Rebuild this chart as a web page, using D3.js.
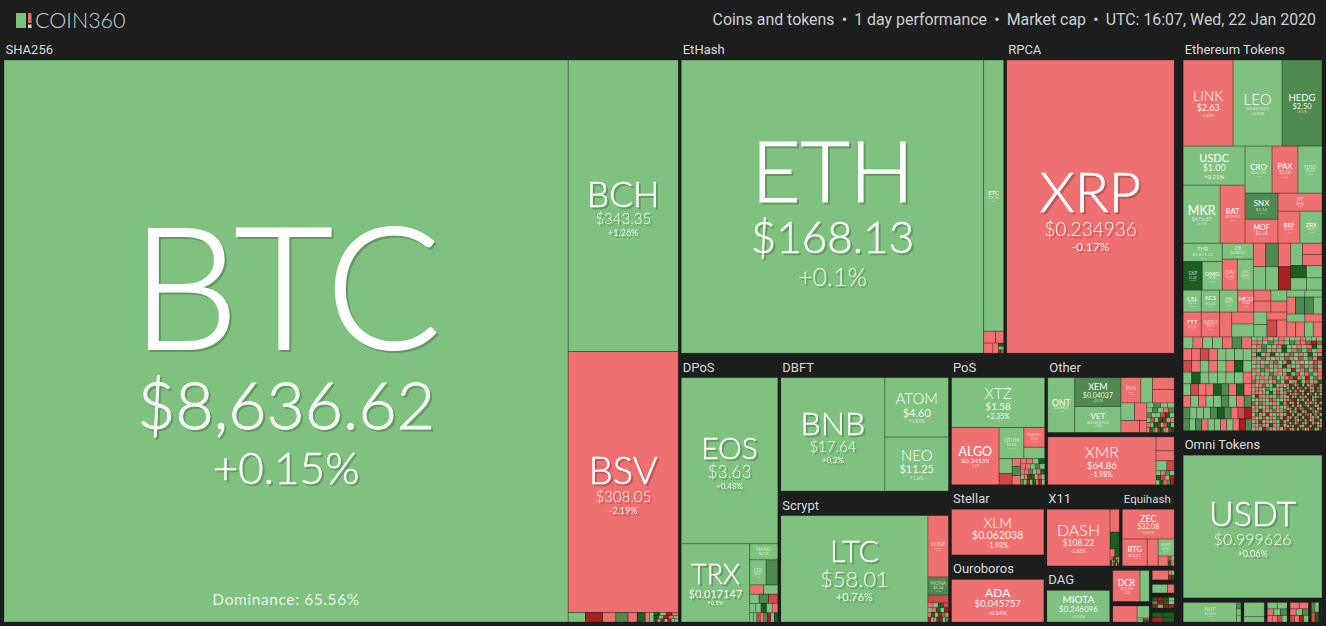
<!DOCTYPE html>
<html>
<head>
<meta charset="utf-8">
<title>COIN360</title>
<script src="https://cdn.jsdelivr.net/npm/d3@7"></script>
<style>
  html, body { margin: 0; padding: 0; background: #1c1e1e; overflow: hidden; }
  svg { display: block; }
</style>
</head>
<body>
<script>
//header text
var logoText = "COIN360";
var headerText = "Coins and tokens \u2009\u2022\u2009 1 day performance \u2009\u2022\u2009 Market cap \u2009\u2022\u2009 UTC: 16:07, Wed, 22 Jan 2020";
var dominanceText = "Dominance: 65.56%";

//coins with a label: symbol, price, 1 day change %, market cap in $M
var sha256Coins = [["BTC","$8,636.62",0.15,165420],["BCH","$343.35",1.26,16735],["BSV","$308.05",-2.19,14984]];
var ethHashCoins = [["ETH","$168.13",0.1,48262],["ETC","$9.36",1.2,2951]];
var rpcaCoins = [["XRP","$0.234936",-0.17,26951]];
var dposCoins = [["EOS","$3.63",0.48,9065],["TRX","$0.017147",0.5,3025],["NANO","$0.926",1.1,254],["LSK","$0.81",1.3,230]];
var dbftCoins = [["BNB","$17.64",0.2,7274],["ATOM","$4.60",0.85,2329],["NEO","$11.25",1.6,2113]];
var scryptCoins = [["LTC","$58.01",0.76,9760],["DOGE","$0.0023",-0.4,786],["MONA","$1.34",9.2,230]];
var posCoins = [["XTZ","$1.58",2.35,2935],["ALGO","$0.24535",-4.1,1720],["QTUM","$1.89",1.5,488],["WAVES","$1.05",-1.2,259]];
var otherCoins = [["ONT","$0.648655",0.6,1094],["XEM","$0.04037",10.2,983],["VET","$0.005903",1.8,881],["RVN","$0.022",-2.4,373]];
var xmrCoins = [["XMR","$64.86",-1.98,2890]];
var stellarCoins = [["XLM","$0.062038",-1.98,3328]];
var ouroborosCoins = [["ADA","$0.045757",-0.14,3186]];
var x11Coins = [["DASH","$108.22",-0.88,2659]];
var equihashCoins = [["ZEC","$32.08",-0.87,1167],["BTG","$10.81",-1.4,505],["KMD","$0.61",0.9,205]];
var dagCoins = [["MIOTA","$0.246096",0.33,1840]];
var miscCoins = [["DCR","$18.98",-1.1,523],["NUT","$0.0192",1.1,704]];
var omniCoins = [["USDT","$0.999626",0.06,12305]];
var tokenCoins = [
  ["LINK","$2.63",-1.42,2430],["LEO","$0.893965",0.65,2381],["HEDG","$2.50",8.57,1944],
  ["USDC","$1.00",0.21,1366],["MKR","$476.87",0.75,1212],["BAT","$0.209512",-0.8,819],
  ["CRO","$0.037765",1.2,717],["PAX","$1.00",-0.5,690],["TUSD","$1.00",0.2,637],
  ["SNX","$1.14",8.1,485],["MOF","$1.68",-1.1,447],["HT","$3.24",-0.6,447],["REP","$11.81",-0.9,398],["ZRX","$0.21",0.4,398],
  ["THR","$1,471.23",0.3,408],["ZB","$0.288745",0.5,280],["SXP","$1.08",24.6,306],["OMG","$0.88",0.7,322],
  ["DAI","$1.00",-0.3,263],["LRC","$0.02",0.4,280],
  ["CEL","$0.14",0.6,224],["KCS","$1.01",0.9,230],["INB","$0.33",1.2,224],["MCO","$3.64",-2.1,199],
  ["FTT","$2.20",-1.3,254],["NEXO","$0.11",-0.7,261]
];

//unlabelled cells: [1 day change %, market cap in $M]
var sha256TailCells = [[2,85],[-24,85],[-2,65],[9,60],[-3,45],[26,40],[-2,22],[3,20]];
var sha256TailChanges = [26,3,-22,-3,25,2,-21,-2,3,25,-3,-24,4,-22,2,3];
var ethTailCells = [[-2,78],[-3,52],[-2,50],[-3,30]];
var ethTailChanges = [25,2,-22,9];
var lskMate = [9,166];
var dposTailChanges = [-2,2, 2,9,-14, 2,2,25,2,-2, 2,2,-14,-2,9,-22,2,25];
var scryptStripe = [-12,102];
var scryptTailChanges = [-3,2,25,-14, 2,-3,26,3,-22, -3,25,2,-22,9,-2, -24,3,-3,26,-21,3,9];
var posSideCells = [[2,150],[2,123],[-3,50]];
var posFootCells = [[-14,92],[9,50],[-2,42]];
var posTailChanges = [-2,-3,2,25, -3,-2,2,9,3, -3,-3,9,2,-2,25, 2,-3,25,-22,3,-14,2, 9,2,-22,3,26,-3,-24,2];
var otherTopCells = [[2,217],[-2,187],[-2,217]];
var otherMidCells = [[2,176],[-2,160],[-2,163],[-3,64]];
var otherTailChanges = [2,9,2,3, 3,9,2,-3,9, 9,2,3,-14,25,2, 2,-14,3,25,-22,2,-3, -3,2,26,-22,3,-14,25,2, 2,-22,9,3,-24,26,-3,2,-21,25];
var xmrTailCells = [[-2,141],[-3,100],[2,60],[-14,40]];
var xmrTailChanges = [2,-3,9,2, 25,-14,3,-22, 2,26,-3,9,-21];
var x11TailCells = [[-2,156],[26,115],[-2,28],[24,26]];
var x11TailChanges = [3,-14,25,-3,2, -22,2,9,-24,3, 25,-3,-21,2,26];
var equihashCells = [[-3,222],[-2,74]];
var equihashTailChanges = [-14,2,25,-3];
var dcrMate = [2,175];
var miscCells = [[-2,269],[3,100]];
var miscTailChanges = [2,-14,3,25];
var blockOneCells = [[-2,130]];
var blockOneChanges = [-2,3,-22,25];
var blockTwoCells = [[2,112],[-3,50]];
var blockThreeChanges = [25,-22,26,3, -14,25,-24,2, 25,-3,26,-21];
var blockFourChanges = [26,25,-24,26];
var omniSideCells = [[9,18],[2,18],[2,19]];
var omniBlockA = [[2,214],[3,78]];
var omniBlockB = [2,3, -3,2,9, -2,-3,-14,2];
var omniBlockC = [-2,-3, -3,2,9, -14,-2,-22,3];
var omniBlockD = [9,2,-14,25];
var omniBlockE = [-3];

//unlabelled token cells, by block
var tokenMidA = [[[-3,166],[2,166]],[[9,166],[3,166]],[[-2,166],[-24,166]]];
var tokenMidB = [[[2,146]],[[-2,124],[-3,124]],[[26,108],[2,108]],[[3,108],[2,108]]];
var tokenLowLeft = [[-2,169]];
var tokenLowStack = [[-3,149],[2,162]];
var tokenLowMid = [[[-2,106],[2,99]],[[-3,106],[-2,99]]];
var tokenLowMidFoot = [[2,92],[3,92],[-3,90],[-13,96],[-2,96]];
var tokenLowRight = [[[2,71],[3,67]],[[-2,82],[9,86],[10,86],[2,82]],[[2,81],[-3,77]],[[-2,74],[-3,74],[2,74],[-2,74]]];

//small tokens, change % only, read row by row
var tokenTailLeftCounts = [7,8,8,8,9,9,10,11];
var tokenTailLeft = [
  3,-2,2,3,-3,9,-2,
  -3,-2,-14,-2,2,3,2,3,
  -14,-2,3,-2,2,-3,26,3,
  2,26,3,2,3,2,3,-3,
  3,-14,-2,-3,26,9,-2,25,-3,
  -2,3,-3,3,2,9,2,-3,9,
  9,3,2,3,9,25,9,-2,-14,-24,
  9,3,9,-3,2,3,-2,3,-3,-24,9
];
var tokenTailACounts = [13,13,14,14,15,15,16,16,16,16,17,17];
var tokenTailA = [
  3,2,-2,4,3,-4,3,5,2,-3,4,2,3,
  -3,-4,3,9,-2,-3,2,8,-2,-3,-14,-22,-13,
  2,-2,9,3,3,-2,25,3,2,-4,3,-3,25,2,
  -3,3,9,2,-2,2,24,3,-3,9,2,-14,3,-2,
  2,26,3,-3,25,2,3,-2,9,3,-3,2,26,3,-2,
  -3,2,-14,3,2,-2,3,9,-3,2,-14,3,9,-2,25,
  2,-3,2,3,-2,9,3,-2,25,3,-3,2,0,3,-14,-2,
  3,2,-3,9,2,-3,2,26,-2,3,3,-13,2,-3,9,2,
  -2,3,9,-3,2,3,-2,2,3,-22,2,-3,9,3,-14,-2,
  2,-3,3,2,9,-2,3,-3,26,2,-13,3,-2,9,2,-3,
  -3,2,-2,3,-3,9,2,3,-2,-14,25,-3,2,-22,3,9,-2,
  9,-2,3,-3,2,-2,9,3,-24,2,-3,26,3,-14,2,-3,25
];
var tokenTailBCounts = [10,10,10,10,10,10,10,10,10,10,10,10,10];
var tokenTailB = [
  -3,2,-2,-14,3,2,25,3,-3,2,
  2,-2,-3,3,9,2,3,-3,2,9,
  -2,-3,3,-2,3,26,2,-14,3,-3,
  3,-22,-2,2,-3,2,3,9,-3,2,
  2,3,-3,3,2,-14,-2,3,2,-3,
  -14,2,9,-2,3,2,-3,2,25,-2,
  3,-3,2,3,-2,9,3,-3,2,3,
  -2,3,25,-3,2,-3,-14,3,-2,9,
  2,9,-2,3,-22,3,2,-3,3,-2,
  -3,2,3,-14,2,-2,3,9,-3,25,
  3,-2,-24,3,-3,2,-2,3,26,-3,
  -2,3,9,-3,3,25,-3,2,-24,3,
  3,-3,2,-22,9,-2,3,-3,2,-14
];
var tokenTailCCounts = [14,14,14,14,14,14,14,14,14,14,14,14,14,14,14,14];
var tokenTailC = [
  -3,25,-22,3,-14,26,2,-24,3,-3,9,-21,25,2,
  2,-22,3,26,-3,-14,25,3,-24,2,-3,26,-13,3,
  -14,3,25,-2,-24,3,2,-21,26,-3,3,-22,9,-3,
  25,-3,-14,3,9,-22,-3,25,2,-14,26,3,-24,2,
  3,-24,2,-3,26,3,-13,2,-22,25,-3,3,-14,9,
  -3,9,-21,25,2,-14,3,26,-3,-24,3,9,25,-22,
  26,2,-3,-22,3,25,-24,3,-14,2,9,-3,-21,3,
  -14,25,3,-24,-3,3,26,-13,2,25,-22,3,-3,26,
  3,-3,26,2,-21,-3,9,25,-24,3,-14,26,2,-3,
  -22,2,-14,3,25,-24,3,-3,26,-21,9,3,-14,25,
  25,-24,3,26,-3,2,-22,9,-14,3,25,-3,-24,3,
  -3,3,-21,2,-14,25,3,-24,26,-3,2,-13,3,25,
  2,26,-24,-3,3,-14,25,2,-22,3,-3,26,-21,3,
  -22,3,25,3,-14,26,-3,2,-24,25,3,-14,2,-3,
  3,-14,-3,25,-22,3,2,-24,26,3,-21,25,-3,2,
  25,-3,2,-24,3,26,-14,3,-3,-22,25,2,-3,26
];

//look of the page, kept apart from the data
var symbolFont = "Lato, 'Noto Sans', sans-serif";
var uiFont = "Roboto, sans-serif";
var bgColor = "#1c1e1e";
var zeroColor = "#b5b5b5";
//label type sizes: symbol, price, change
var labelSizes = {
  BTC:[170,66,44],BCH:[35,15,9],BSV:[38,15,9],ETH:[85,44,25],ETC:[6,4,2],XRP:[56,19,12],
  EOS:[30,17,8],TRX:[27,11,6],NANO:[5,3,2],LSK:[5,3,2],BNB:[32,15,8],ATOM:[15,11,5],NEO:[15,11,5],
  LTC:[30,22,11],DOGE:[5,2,2],MONA:[5,4,2],XTZ:[15,10,7],ALGO:[12.5,6.5,3],QTUM:[5,4,2],WAVES:[4,3,2],
  ONT:[8.5,3,2],XEM:[9,7,3],VET:[8,4.5,3],RVN:[5,2,2],XMR:[16,9.5,7],XLM:[14,10.5,7],ADA:[12,9.5,6],
  DASH:[16,8.5,5],ZEC:[9,7,4],BTG:[7.5,4,2],KMD:[4,3,2],MIOTA:[10,8,4],DCR:[8.5,4,3],USDT:[34,16,9],NUT:[5,3,2],
  LINK:[14,9,4],LEO:[15,4.5,4],HEDG:[9.5,7.5,3],USDC:[11,9,6],CRO:[8,3,2.5],PAX:[8,5,2.5],TUSD:[5,3.5,2],MKR:[12.5,5.5,3],
  BAT:[7.5,3,2],SNX:[8,4.5,2.5],MOF:[7,5,2.5],HT:[5,3,2],REP:[6,3,2],ZRX:[6,3,2],THR:[5.5,4.5,2.5],ZB:[5.5,3,2.5],
  SXP:[5,3,2],OMG:[6,3,2],DAI:[5.5,3.5,2],LRC:[4,3,2],CEL:[6,3,2],KCS:[6,4,2],INB:[4,3,2],MCO:[6,3,2],
  FTT:[6,3,2],NEXO:[5,3,2]
};

//colors by 1 day change
var color = d3.scaleThreshold()
  .domain([-20, -7, 0, 7, 20])
  .range(["#a92020", "#cc4a4a", "#ef7070", "#7fc27f", "#4f8b50", "#1c5e21"]);

//labelled coins by symbol
var coinBySymbol = new Map(
  [].concat(sha256Coins, ethHashCoins, rpcaCoins, dposCoins, dbftCoins, scryptCoins, posCoins, otherCoins,
    xmrCoins, stellarCoins, ouroborosCoins, x11Coins, equihashCoins, dagCoins, miscCoins, omniCoins, tokenCoins)
  .map(function(d){ return [d[0], d]; })
);

//tree builders
function c(sym){
  var d = coinBySymbol.get(sym);
  return {symbol:d[0], price:d[1], change:d[2], cap:d[3]};
}
function cell(d){ return {change:d[0], cap:d[1]}; }
function h(){ return {tile:d3.treemapDice, children:Array.from(arguments)}; }
function v(){ return {tile:d3.treemapSlice, children:Array.from(arguments)}; }
function group(title, child){ return {tile:d3.treemapDice, title:title, isGroup:true, children:[child]}; }
function cells(list){ return list.map(cell); }
function rowsOf(list){ return v.apply(null, list.map(function(r){ return h.apply(null, cells(r)); })); }
//rows of equal height cut from a list of changes, each row sharing its cap evenly
function grid(changes, counts, cap){
  var at = 0, rows = counts.map(function(n){
    var row = changes.slice(at, at + n).map(function(ch){ return {change:ch, cap:cap / counts.length / n}; });
    at += n;
    return h.apply(null, row);
  });
  return v.apply(null, rows);
}

//the chart tree, one block at a time
var sha256Tree = group("SHA256", h(c("BTC"), v(c("BCH"), c("BSV"),
  h.apply(null, cells(sha256TailCells).concat([grid(sha256TailChanges, [4,5,7], 120)])))));
var ethHashTree = group("EtHash", h(c("ETH"), v(c("ETC"),
  h(cell(ethTailCells[0]), cell(ethTailCells[1])),
  h(cell(ethTailCells[2]), cell(ethTailCells[3]), grid(ethTailChanges, [1,1,2], 29)))));
var rpcaTree = group("RPCA", c("XRP"));
var dposTree = group("DPoS", v(c("EOS"), h(c("TRX"), v(c("NANO"),
  h(c("LSK"), cell(lskMate)), grid(dposTailChanges, [2,3,5,8], 586)))));
var dbftTree = group("DBFT", h(c("BNB"), v(c("ATOM"), c("NEO"))));
var scryptTree = group("Scrypt", h(c("LTC"), v(c("DOGE"), c("MONA"), cell(scryptStripe),
  grid(scryptTailChanges, [4,5,6,7], 243))));
var posTree = group("PoS", v(c("XTZ"), h(c("ALGO"), v(
  h(c("QTUM"), v(c("WAVES"), cell(posSideCells[0]))),
  h(v(cell(posSideCells[1]), cell(posFootCells[0])),
    v(cell(posFootCells[2]), cell(posFootCells[1]), cell(posSideCells[2])),
    grid(posTailChanges, [4,5,6,7,8], 393))))));
var otherTree = group("Other", h(c("ONT"), v(c("XEM"), c("VET")), v(
  h(c("RVN"), cell(otherTopCells[0]), v(cell(otherTopCells[1]), cell(otherTopCells[2]))),
  h(v(h(cell(otherMidCells[0]), cell(otherMidCells[1])), h(cell(otherMidCells[2]), cell(otherMidCells[3]))),
    grid(otherTailChanges, [4,5,6,7,8,10], 591)))));
var xmrTree = group(null, h(c("XMR"), v(cell(xmrTailCells[0]), cell(xmrTailCells[1]),
  h(cell(xmrTailCells[2]), cell(xmrTailCells[3])), grid(xmrTailChanges, [4,4,5], 141))));
var stellarTree = group("Stellar", c("XLM"));
var ouroborosTree = group("Ouroboros", c("ADA"));
var x11Tree = group("X11", h(c("DASH"), v(cell(x11TailCells[0]), cell(x11TailCells[1]),
  h(cell(x11TailCells[2]), cell(x11TailCells[3])), grid(x11TailChanges, [5,5,5], 61))));
var equihashTree = group("Equihash", v(c("ZEC"), h(c("BTG"), cell(equihashCells[0]),
  v(c("KMD"), h(cell(equihashCells[1]), grid(equihashTailChanges, [2,2], 45))))));
var dagTree = group("DAG", c("MIOTA"));
var dcrTree = group(null, h(c("DCR"), cell(dcrMate)));
var miscTree = group(null, h(cell(miscCells[0]), v(cell(miscCells[1]), grid(miscTailChanges, [2,2], 34))));
var blockOne = group(null, h(cell(blockOneCells[0]), grid(blockOneChanges, [2,2], 44)));
var blockTwo = group(null, h(cell(blockTwoCells[0]), cell(blockTwoCells[1])));
var blockThree = group(null, grid(blockThreeChanges, [4,4,4], 187));
var blockFour = group(null, grid(blockFourChanges, [2,2], 174));

var tokensTree = group("Ethereum Tokens", v(
  h(c("LINK"), c("LEO"), c("HEDG")),
  h(v(c("USDC"), h(c("MKR"), c("BAT"))),
    v(h(c("CRO"), c("PAX"), c("TUSD")),
      h(v(c("SNX"), c("MOF")), v(c("HT"), h(c("REP"), c("ZRX")))))),
  h(v(c("THR"), h(c("SXP"), c("OMG"))),
    v(c("ZB"), h(c("DAI"), c("LRC"))),
    h.apply(null, tokenMidA.map(function(col){ return v.apply(null, cells(col)); })),
    v(h(cell(tokenMidB[0][0]), v(cell(tokenMidB[1][0]), cell(tokenMidB[1][1]))),
      h.apply(null, cells(tokenMidB[2])), h.apply(null, cells(tokenMidB[3])))),
  h(v(h(c("CEL"), c("KCS"), c("INB"), c("MCO")),
      h(c("FTT"), c("NEXO"), cell(tokenLowLeft[0]), v(cell(tokenLowStack[0]), cell(tokenLowStack[1])))),
    v(rowsOf(tokenLowMid), h(v(cell(tokenLowMidFoot[0]), cell(tokenLowMidFoot[1])),
      v(cell(tokenLowMidFoot[2]), h(cell(tokenLowMidFoot[3]), cell(tokenLowMidFoot[4]))))),
    rowsOf(tokenLowRight)),
  h(grid(tokenTailLeft, tokenTailLeftCounts, 3626),
    v(grid(tokenTailA, tokenTailACounts, 1859),
      h(grid(tokenTailB, tokenTailBCounts, 930),
        grid(tokenTailC, tokenTailCCounts, 930))))
));
var omniTree = group("Omni Tokens", c("USDT"));
var omniFoot = h(
  group(null, h(c("NUT"), v.apply(null, cells(omniSideCells)))),
  group(null, v.apply(null, cells(omniBlockA))),
  group(null, grid(omniBlockB, [2,3,4], 285)),
  group(null, grid(omniBlockC, [2,3,4], 266)),
  group(null, grid(omniBlockD, [2,2], 130)),
  group(null, grid(omniBlockE, [1], 40))
);

var leftCol = sha256Tree;
var midCol = v(
  h(ethHashTree, rpcaTree),
  h(dposTree,
    v(dbftTree, scryptTree),
    v(h(posTree, v(otherTree, xmrTree)),
      h(v(stellarTree, ouroborosTree),
        v(h(x11Tree, equihashTree),
          h(dagTree, v(dcrTree, miscTree), v(blockOne, blockTwo, blockThree, blockFour))))))
);
var rightCol = v(tokensTree, omniTree, omniFoot);
rightCol.padLeft = 6;
var chartTree = h(leftCol, midCol, rightCol);

//SVG dimension variables
var w = 1326, h_ = 626;

var container = d3.select("body")
  .append("svg")
  .attr("width", w)
  .attr("height", h_)
  .attr("class", "container")
  .style("background-color", bgColor);

var root = d3.hierarchy(chartTree).sum(function(d){ return d.cap || 0; });

d3.treemap()
  .size([w, h_])
  .tile(function(node, x0, y0, x1, y1){ node.data.tile(node, x0, y0, x1, y1); })
  .paddingTop(function(n){ return n.depth === 0 ? 37.5 : (n.data.isGroup ? (n.data.title ? 22.5 : 2.5) : 0); })
  .paddingBottom(function(n){ return n.depth === 0 ? 2 : (n.data.isGroup ? 2 : 0); })
  .paddingLeft(function(n){ return n.depth === 0 ? 2.5 : (n.data.padLeft || (n.data.isGroup ? 1.5 : 0)); })
  .paddingRight(function(n){ return n.depth === 0 ? 2.5 : (n.data.isGroup ? 1.5 : 0); })
  (root);

//cells, with a lighter edge on the tiny ones so the mosaic keeps its colors
container.append("g").attr("class", "cells")
  .selectAll("rect")
  .data(root.leaves())
  .join("rect")
  .attr("x", function(d){ return d.x0; })
  .attr("y", function(d){ return d.y0; })
  .attr("width", function(d){ return Math.max(0, d.x1 - d.x0); })
  .attr("height", function(d){ return Math.max(0, d.y1 - d.y0); })
  .attr("fill", function(d){ return d.data.change === 0 ? zeroColor : color(d.data.change); })
  .attr("stroke", "#000")
  .attr("stroke-opacity", function(d){ return Math.min(d.x1 - d.x0, d.y1 - d.y0) < 6 ? 0.2 : 0.32; })
  .attr("stroke-width", 0.8);

//group titles
container.append("g").attr("class", "titles")
  .selectAll("text")
  .data(root.descendants().filter(function(d){ return d.data.title; }))
  .join("text")
  .attr("x", function(d){ return d.x0 + 3; })
  .attr("y", function(d){ return d.y0 + 16.5; })
  .attr("fill", "#dcdcdc")
  .style("font-family", uiFont)
  .style("font-weight", 400)
  .style("font-size", function(d){ return d.data.title === "Equihash" ? "11.5px" : "13px"; })
  .text(function(d){ return d.data.title; });

//coin labels: symbol, price and change stacked around the cell centre
var gapAfter = [0.08, 0.17, 0];
var labelled = root.leaves().filter(function(d){ return d.data.symbol; });
var labels = container.append("g").attr("class", "labels")
  .selectAll("g")
  .data(labelled)
  .join("g")
  .attr("transform", function(d){ return "translate(" + (d.x0 + d.x1) / 2 + "," + (d.y0 + d.y1) / 2 + ")"; })
  .attr("text-anchor", "middle")
  .attr("fill", "#fff")
  .style("font-family", symbolFont)
  .style("filter", function(d){ return labelSizes[d.data.symbol][0] > 25 ? "drop-shadow(2px 2px 0 rgba(0,0,0,0.22))" : null; });

["symbol", "price", "change"].forEach(function(part, i){
  labels.append("text")
    .attr("y", function(d){
      var s = labelSizes[d.data.symbol];
      var total = s[0] * (1 + gapAfter[0]) + s[1] * (1 + gapAfter[1]) + s[2];
      var top = -total * 0.53;
      for (var k = 0; k < i; k++) top += s[k] * (1 + gapAfter[k]);
      return top + s[i];
    })
    .attr("fill-opacity", function(d){
      var size = labelSizes[d.data.symbol][i];
      return size < 6 ? 0.7 : (i === 0 ? 1 : 0.9);
    })
    //light face, thickened on the big labels
    .attr("stroke", function(d){ return labelSizes[d.data.symbol][i] > 25 ? "#fff" : "none"; })
    .attr("stroke-width", function(d){ return labelSizes[d.data.symbol][i] * 0.012; })
    .style("font-weight", function(d){ return labelSizes[d.data.symbol][i] < 14 ? 400 : 300; })
    .style("font-size", function(d){ return labelSizes[d.data.symbol][i] + "px"; })
    .text(function(d){
      if (part !== "change") return d.data[part];
      return (d.data.change > 0 ? "+" : "") + d.data.change + "%";
    });
});

//dominance note inside the BTC cell
var btc = labelled.find(function(d){ return d.data.symbol === "BTC"; });
container.append("text")
  .attr("x", (btc.x0 + btc.x1) / 2)
  .attr("y", btc.y1 - 17)
  .attr("text-anchor", "middle")
  .attr("fill", "#fff")
  .attr("fill-opacity", 0.85)
  .style("font-family", symbolFont)
  .style("font-size", "15.5px")
  .style("letter-spacing", "0.6px")
  .text(dominanceText);

//header
container.append("rect").attr("x", 16).attr("y", 13).attr("width", 10).attr("height", 15).attr("fill", "#7fc27f");
container.append("rect").attr("x", 28).attr("y", 13).attr("width", 3.5).attr("height", 10).attr("fill", "#e56a6a");
container.append("rect").attr("x", 28).attr("y", 24.5).attr("width", 3.5).attr("height", 3.5).attr("fill", "#d8d8d8");
container.append("text")
  .attr("x", 35).attr("y", 28)
  .attr("fill", "#cfcfcf")
  .style("font-family", symbolFont)
  .style("font-weight", 300)
  .style("font-size", "21.5px")
  .text(logoText);
container.append("text")
  .attr("x", 1316).attr("y", 25)
  .attr("text-anchor", "end")
  .attr("fill", "#cfcfcf")
  .style("font-family", uiFont)
  .style("font-size", "15.9px")
  .style("white-space", "pre")
  .text(headerText);
</script>
</body>
</html>
